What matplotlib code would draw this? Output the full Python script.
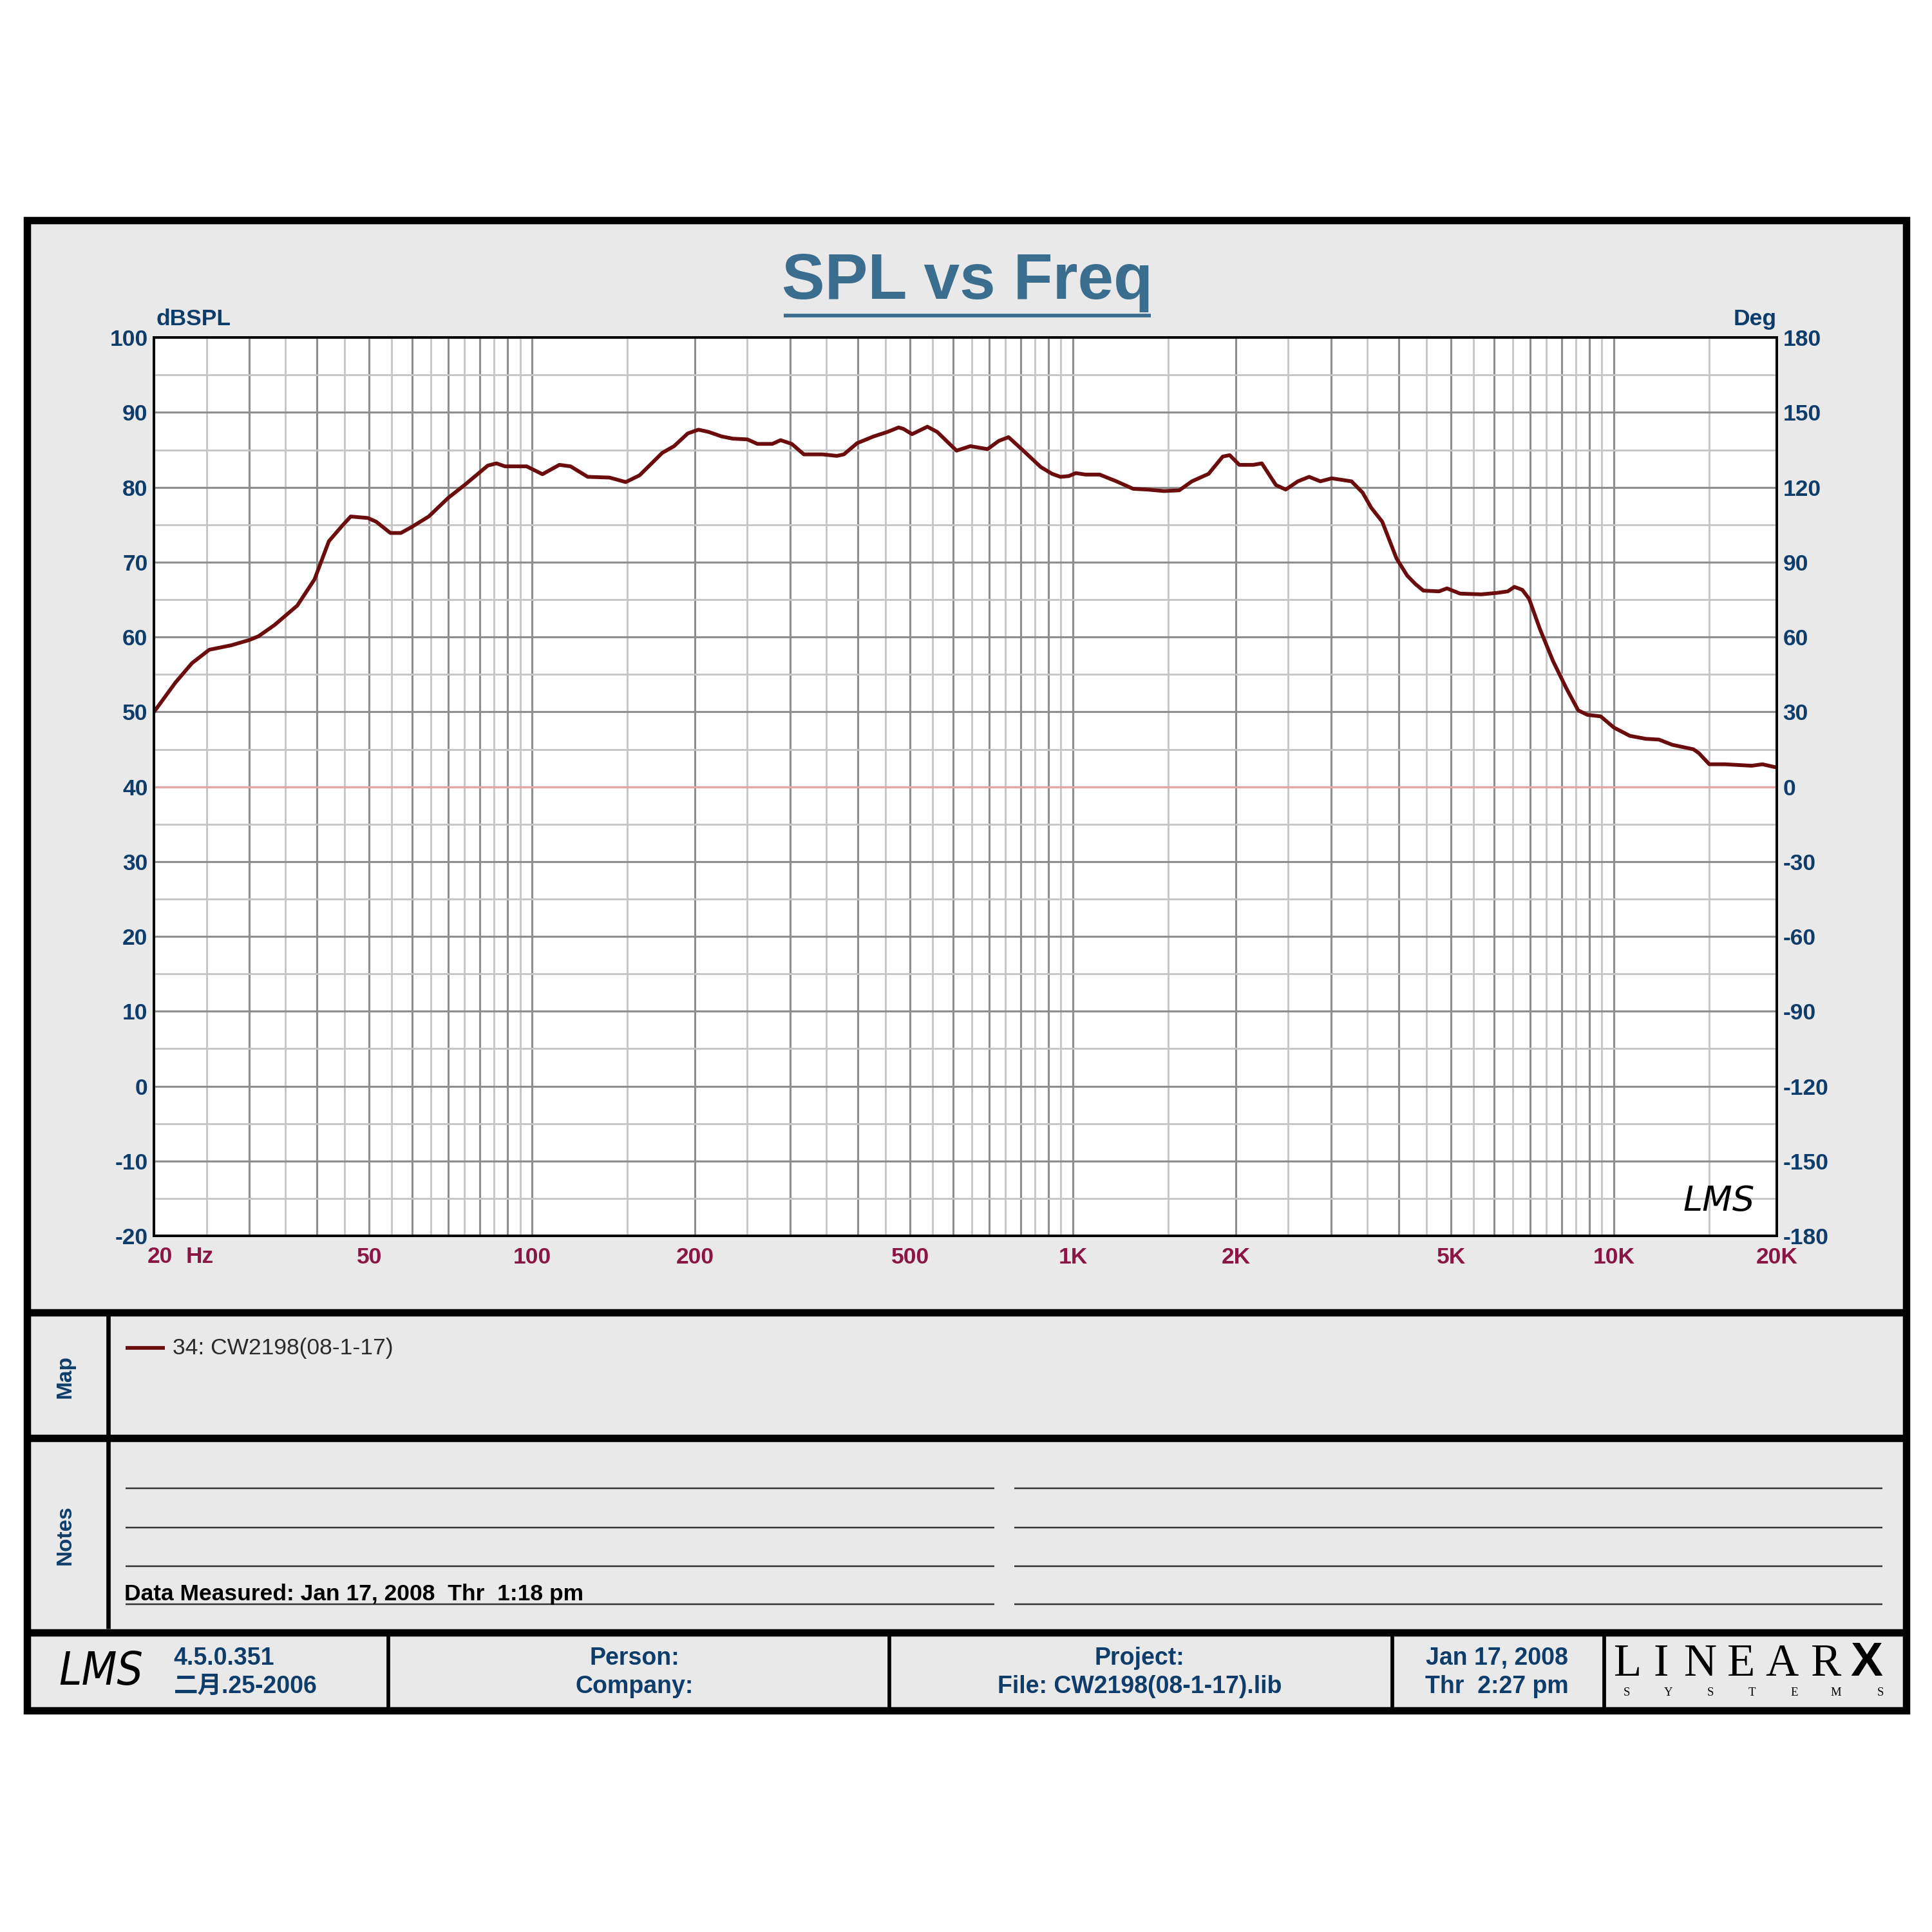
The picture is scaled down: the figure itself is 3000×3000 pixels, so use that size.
import matplotlib
matplotlib.use('Agg')
import matplotlib.pyplot as plt
from matplotlib.patches import Rectangle
from matplotlib.ticker import FixedLocator, FuncFormatter, NullFormatter


# measured SPL curve
freq_hz = [20, 21.9, 23.5, 25.3, 27.8, 30, 31.2, 33.4, 36.8, 39.6, 42.1, 44.6,
           46.2, 49.7, 51.5, 54.7, 57.2, 59.9, 64.4, 70.0, 75.0, 82.8, 85.9,
           89.1, 97.7, 104.5, 112.3, 117.8, 126.7, 139, 149, 158, 174, 183,
           194, 203, 212, 224, 235, 250, 261, 278, 288, 302, 318, 344, 366,
           377, 399, 428, 454, 476, 486, 504, 538, 561, 609, 646, 695, 729,
           760, 812, 872, 915, 948, 982, 1012, 1055, 1120, 1203, 1292, 1371,
           1473, 1572, 1659, 1781, 1891, 1948, 2030, 2155, 2234, 2372, 2473,
           2605, 2732, 2866, 3008, 3272, 3430, 3557, 3730, 3963, 4148, 4292,
           4443, 4750, 4913, 5196, 5687, 6087, 6365, 6546, 6772, 6969, 7295,
           7715, 8160, 8590, 8935, 9451, 10000, 10700, 11450, 12110, 12820,
           14030, 14350, 15010, 16060, 17980, 18810, 19900, 20000]
spl_db = [50.0, 53.9, 56.5, 58.3, 58.9, 59.6, 60.1, 61.6, 64.2, 67.7, 72.8, 74.9,
          76.1, 75.9, 75.4, 73.9, 73.9, 74.7, 76.1, 78.6, 80.3, 82.9, 83.2,
          82.8, 82.8, 81.75, 83.0, 82.8, 81.4, 81.3, 80.7, 81.6, 84.6, 85.5,
          87.2, 87.7, 87.4, 86.8, 86.5, 86.4, 85.8, 85.8, 86.3, 85.8, 84.4, 84.4, 84.2,
          84.4, 85.9, 86.8, 87.4, 88.0, 87.8, 87.1, 88.1, 87.4, 84.9, 85.5, 85.1, 86.2,
          86.7, 84.8, 82.7, 81.8, 81.4, 81.5, 81.9, 81.7, 81.7, 80.8, 79.8, 79.7,
          79.5, 79.6, 80.8, 81.8, 84.1, 84.3, 83.0, 83.0, 83.2, 80.3, 79.7,
          80.8, 81.4, 80.8, 81.2, 80.8, 79.3, 77.3, 75.4, 70.5, 68.2, 67.1,
          66.2, 66.1, 66.5, 65.8, 65.7, 65.9, 66.1, 66.7, 66.3, 65.1, 61.1,
          56.8, 53.2, 50.2, 49.6, 49.4, 47.9, 46.8, 46.4, 46.3, 45.6,
          45.0, 44.5, 43.0, 43.0, 42.8, 43.0, 42.6, 42.6]

spl_ticks = list(range(-20, 101, 10))
phase_ticks = list(range(-180, 181, 30))
freq_labels = {50: '50', 100: '100', 200: '200', 500: '500',
               1000: '1K', 2000: '2K', 5000: '5K', 10000: '10K', 20000: '20K'}
trace_name = '34: CW2198(08-1-17)'

BLUE = '#0f3d6b'
TITLE = '#3b6d8e'
MAROON = '#8a1646'
CURVE = '#6c0d0d'
PANEL = '#e9e9e9'
NARROW = ['Liberation Sans Narrow', 'Liberation Sans', 'DejaVu Sans']

plt.rcParams['axes.unicode_minus'] = False

W = 1568.0      # layout in reference pixels (shrunk view)
PX = 0.459      # points per reference pixel

fig = plt.figure(figsize=(10, 10), dpi=300)
fig.patch.set_facecolor('white')

bg = fig.add_axes([0, 0, 1, 1], zorder=0)
bg.set_xlim(0, W)
bg.set_ylim(W, 0)
bg.axis('off')


def hline(y, x0, x1, w, c='black'):
    bg.plot([x0, x1], [y, y], color=c, lw=w * PX, solid_capstyle='butt')


def vline(x, y0, y1, w, c='black'):
    bg.plot([x, x], [y0, y1], color=c, lw=w * PX, solid_capstyle='butt')


def txt(x, y, s, size, **kw):
    kw.setdefault('family', NARROW)
    kw.setdefault('color', BLUE)
    kw.setdefault('weight', 'bold')
    kw.setdefault('va', 'center')
    kw.setdefault('stretch', 'condensed')
    bg.text(x, y, s, fontsize=size, **kw)


# frame and sections
bg.add_patch(Rectangle((22, 179), 1525, 1209, facecolor=PANEL,
                       edgecolor='black', lw=6 * PX))
for y in (1065, 1167, 1325):
    hline(y, 22, 1547, 6)
vline(88, 1068, 1322, 3.5)
for x in (315, 722, 1130, 1302):
    vline(x, 1328, 1386, 3)

# title
txt(785, 229, 'SPL vs Freq', 24, ha='center', color=TITLE,
    family=['Liberation Sans', 'DejaVu Sans'])
hline(256, 636, 934, 3, TITLE)
txt(127, 259, 'dBSPL', 8.5, ha='left')
txt(1442, 259, 'Deg', 8.5, ha='right')
txt(130, 1020, '20', 8.5, ha='center', color=MAROON)
txt(151, 1020, 'Hz', 8.5, ha='left', color=MAROON)

# main plot
ax = fig.add_axes([125 / W, 1 - 1003 / W, (1442 - 125) / W, (1003 - 274) / W], zorder=1)
ax.set_facecolor('white')
ax.set_xscale('log')
ax.set_xlim(20, 20000)
ax.set_ylim(-20, 100)

major_f = [k * 10 ** e for e in (1, 2, 3, 4) for k in range(1, 10)
           if 20 <= k * 10 ** e <= 20000]
minor_f = [(k + 0.5) * 10 ** e for e in (1, 2, 3, 4) for k in range(1, 10)
           if 20 < (k + 0.5) * 10 ** e < 20000]
ax.xaxis.set_major_locator(FixedLocator(major_f))
ax.xaxis.set_minor_locator(FixedLocator(minor_f))
ax.xaxis.set_major_formatter(FuncFormatter(lambda v, p: freq_labels.get(int(round(v)), '')))
ax.xaxis.set_minor_formatter(NullFormatter())
ax.set_yticks(spl_ticks)
ax.set_yticks(list(range(-15, 100, 10)), minor=True)

ax.grid(which='major', color='#8e8e8e', lw=0.75)
ax.grid(which='minor', color='#c6c6c6', lw=0.7)
ax.set_axisbelow(True)
ax.axhline(40, color='#e2a8a8', lw=0.8, zorder=1.5)

ax.plot(freq_hz, spl_db, color=CURVE, lw=1.4, zorder=3)

ax.tick_params(which='both', length=0)
ax.tick_params(axis='x', pad=4, labelcolor=MAROON, labelsize=8.5)
ax.tick_params(axis='y', pad=2.3, labelcolor=BLUE, labelsize=8.5)
for lab in ax.get_xticklabels() + ax.get_yticklabels():
    lab.set_fontfamily(NARROW)
    lab.set_fontweight('bold')
    lab.set_fontstretch('condensed')
for s in ax.spines.values():
    s.set_linewidth(0.95)
    s.set_color('black')

ax2 = ax.twinx()
ax2.set_ylim(-180, 180)
ax2.set_yticks(phase_ticks)
ax2.tick_params(which='both', length=0, pad=2.3, labelcolor=BLUE, labelsize=8.5)
for lab in ax2.get_yticklabels():
    lab.set_fontfamily(NARROW)
    lab.set_fontweight('bold')
    lab.set_fontstretch('condensed')
for s in ax2.spines.values():
    s.set_linewidth(0.95)

ax2.text(1395, 975, 'LMS', transform=bg.transData, fontsize=13, style='italic',
         ha='center', va='center', color='black', family='DejaVu Sans')

# map section
txt(53, 1117, 'Map', 8, rotation=90, ha='center', family=['Liberation Sans', 'DejaVu Sans'])
hline(1094, 102, 134, 3, CURVE)
txt(140, 1094, trace_name, 8.5, ha='left', weight='normal', color='#2a2a2a')

# notes section
txt(53, 1246, 'Notes', 8, rotation=90, ha='center', family=['Liberation Sans', 'DejaVu Sans'])
for y in (1208, 1240, 1271, 1302):
    hline(y, 102, 807, 1.3, '#333333')
    hline(y, 823, 1528, 1.3, '#333333')
txt(101, 1294, 'Data Measured: Jan 17, 2008  Thr  1:18 pm', 8.5, ha='left', color='black')

# footer
txt(82, 1357, 'LMS', 17, ha='center', style='italic', weight='normal',
    color='black', family='DejaVu Sans')
txt(141, 1346, '4.5.0.351', 9, ha='left')
txt(141, 1369, '二月.25-2006', 9, ha='left',
    family=['Liberation Sans Narrow', 'Liberation Sans', 'Noto Sans CJK SC', 'DejaVu Sans'])
txt(515, 1346, 'Person:', 9, ha='center')
txt(515, 1369, 'Company:', 9, ha='center')
txt(925, 1346, 'Project:', 9, ha='center')
txt(925, 1369, 'File: CW2198(08-1-17).lib', 9, ha='center')
txt(1215, 1346, 'Jan 17, 2008', 9, ha='center')
txt(1215, 1369, 'Thr  2:27 pm', 9, ha='center')

for x, ch in zip((1321, 1348, 1380, 1413, 1446, 1482), 'LINEAR'):
    txt(x, 1351, ch, 17, ha='center', weight='normal', color='black',
        family=['Liberation Serif', 'DejaVu Serif'])
txt(1515, 1350, 'X', 18, ha='center', weight='heavy', color='black',
    family=['Liberation Sans', 'DejaVu Sans'])
for x, ch in zip((1320, 1354, 1388, 1422, 1456, 1490, 1526), 'SYSTEMS'):
    txt(x, 1374, ch, 4.5, ha='center', weight='normal', color='black',
        family=['Liberation Serif', 'DejaVu Serif'])

fig.savefig('out.png', dpi=300, facecolor='white')
